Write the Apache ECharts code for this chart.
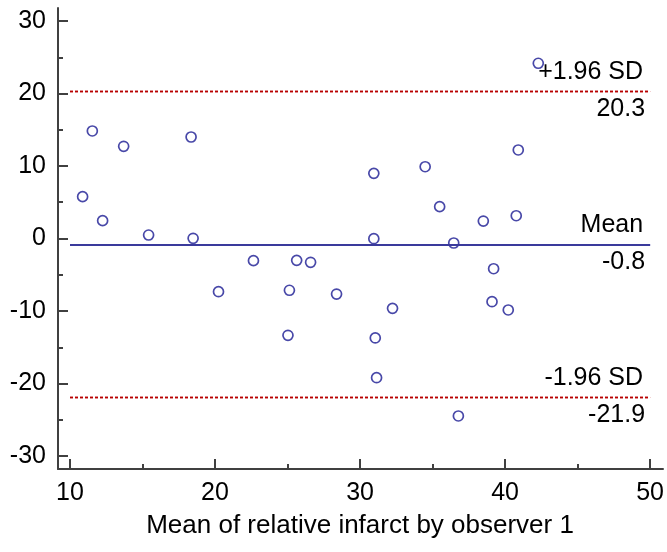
<!DOCTYPE html>
<html>
<head>
<meta charset="utf-8">
<script src="https://cdn.jsdelivr.net/npm/echarts@6/dist/echarts.min.js"></script>
<style>
html,body{margin:0;padding:0;background:#fff;}
#main{width:667px;height:552px;}
</style>
</head>
<body>
<div id="main"></div>
<script>
// 两次测量的均值 (x)
var meanValues=[10.87,11.54,12.25,13.70,15.42,18.35,18.49,20.24,22.65,25.13,
    25.03,25.63,26.59,28.38,30.95,30.95,31.05,31.14,32.24,34.49,
    35.49,36.46,36.78,38.50,39.21,39.10,40.22,40.77,40.91,42.29];
// 两次测量的差值 (y)
var diffValues=[5.77,14.83,2.46,12.72,0.48,14.0,0.03,-7.34,-3.06,-7.14,
    -13.35,-3.01,-3.28,-7.66,8.99,-0.03,-13.72,-19.2,-9.63,9.9,
    4.39,-0.62,-24.48,2.41,-4.17,-8.72,-9.86,3.14,12.21,24.17];
// 一致性界限
var limitValues=[20.3,-0.8,-21.9];
var limitNames=['+1.96 SD','Mean','-1.96 SD'];
// 坐标轴范围
var xRange=[10,50];
var yRange=[-30,30];
var xTitle='Mean of relative infarct by observer 1';

var axisColor='#404040';
var font='Liberation Sans';

var points=[];
for(var i=0;i<meanValues.length;i++){
    points.push([meanValues[i],diffValues[i]]);
}

//定义参考线
var lines=[];
for(var j=0;j<limitValues.length;j++){
    var style=j==1?{color:'#3a3a9c',width:2,type:'solid'}:{color:'#b80000',width:1.3,type:[3,2]};
    lines.push({yAxis:limitValues[j],lineStyle:style,
        label:{position:'insideEndTop',formatter:limitNames[j],distance:7}});
    lines.push({yAxis:limitValues[j],lineStyle:style,
        label:{position:'insideEndBottom',formatter:limitValues[j].toFixed(1),distance:5}});
}

var option={
    animation:false,
    grid:[
        {left:70,right:16,top:21,bottom:96},
        // 外框坐标轴线
        {left:58,right:4,top:8,bottom:83}
    ],
    xAxis:[{
        gridIndex:0,type:'value',min:xRange[0],max:xRange[1],interval:10,
        offset:13,
        axisLine:{show:false,onZero:false},
        axisTick:{show:true,inside:true,length:10,lineStyle:{color:axisColor,width:2}},
        minorTick:{show:true,splitNumber:2,length:5,lineStyle:{color:axisColor,width:2}},
        splitLine:{show:false},
        axisLabel:{color:'#000',fontSize:25,fontFamily:font,margin:12},
        name:xTitle,nameLocation:'middle',nameGap:44,
        nameTextStyle:{color:'#000',fontSize:26,fontFamily:font}
    },{
        gridIndex:1,type:'value',min:0,max:1,
        axisLine:{show:true,onZero:false,lineStyle:{color:axisColor,width:2}},
        axisTick:{show:false},axisLabel:{show:false},splitLine:{show:false}
    }],
    yAxis:[{
        gridIndex:0,type:'value',min:yRange[0],max:yRange[1],interval:10,
        offset:12,
        axisLine:{show:false,onZero:false},
        axisTick:{show:true,inside:true,length:10,lineStyle:{color:axisColor,width:2}},
        minorTick:{show:true,splitNumber:2,length:5,lineStyle:{color:axisColor,width:2}},
        splitLine:{show:false},
        axisLabel:{color:'#000',fontSize:25,fontFamily:font,margin:12}
    },{
        gridIndex:1,type:'value',min:0,max:1,
        axisLine:{show:true,onZero:false,lineStyle:{color:axisColor,width:2}},
        axisTick:{show:false},axisLabel:{show:false},splitLine:{show:false}
    }],
    series:[{
        type:'scatter',
        xAxisIndex:0,yAxisIndex:0,
        symbol:'circle',
        symbolSize:10,
        itemStyle:{color:'rgba(0,0,0,0)',borderColor:'#1a1a92',borderWidth:1.7},
        data:points,
        markLine:{
            silent:true,
            symbol:['none','none'],
            label:{color:'#000',fontSize:25,fontFamily:font,lineHeight:25},
            data:lines
        }
    }]
};

var myChart=echarts.init(document.getElementById('main'));
myChart.setOption(option);
</script>
</body>
</html>
